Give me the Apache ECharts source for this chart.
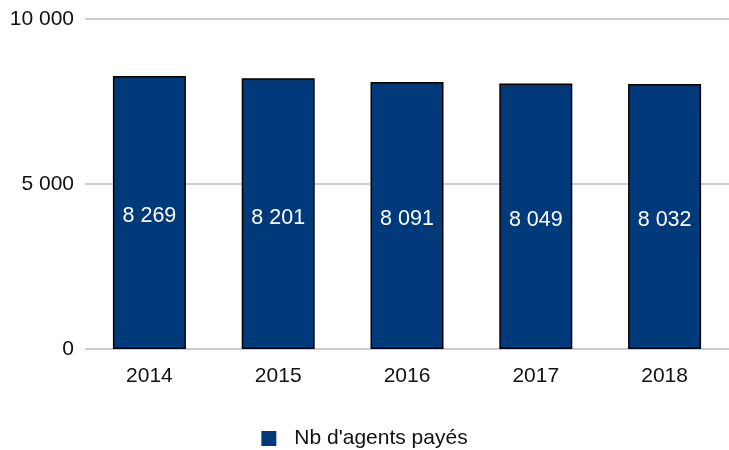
<!DOCTYPE html>
<html><head><meta charset="utf-8">
<script src="https://cdn.jsdelivr.net/npm/echarts@6/dist/echarts.min.js"></script>
<style>html,body{margin:0;padding:0;background:#fff}#c{width:729px;height:450px}</style>
</head><body><div id="c"></div>
<script>
const categories = ['2014','2015','2016','2017','2018'];
const agentsPayes = [8269, 8201, 8091, 8049, 8032];
const seriesName = "Nb d'agents payés";

function fmt(v){ return String(v).replace(/\B(?=(\d{3})+(?!\d))/g, '\u00a0'); }

const chart = echarts.init(document.getElementById('c'));
chart.setOption({
  animation:false,
  textStyle:{fontFamily:'Liberation Sans'},
  grid:{left:85, right:-2, top:19, bottom:101, containLabel:false},
  xAxis:{type:'category', data:categories,
    axisLine:{show:false}, axisTick:{show:false},
    axisLabel:{color:'#111', fontSize:21, margin:17, fontFamily:'Liberation Sans'}},
  yAxis:{type:'value', min:0, max:10000, interval:5000,
    axisLine:{show:false}, axisTick:{show:false},
    splitLine:{lineStyle:{color:'#bcb8cf', width:1.5}},
    axisLabel:{color:'#111', fontSize:21, margin:11, padding:[4,0,0,0], fontFamily:'Liberation Sans', formatter:v=>fmt(v)}},
  legend:{top:428, left:'center', itemWidth:15, itemHeight:15, itemGap:10, padding:0,
    icon:'rect',
    textStyle:{fontSize:21, color:'#111', fontFamily:'Liberation Sans', padding:[0,0,0,13]},
    data:[{name:seriesName, itemStyle:{borderWidth:0}}]},
  series:[{name:seriesName, type:'bar', data:agentsPayes, barWidth:73,
    itemStyle:{color:'#003a7a', borderColor:'#000', borderWidth:1.5},
    label:{show:true, position:'inside', offset:[0,4], color:'#fff', fontSize:21.5, fontFamily:'Liberation Sans', formatter:p=>fmt(p.value)}}]
});
</script></body></html>
